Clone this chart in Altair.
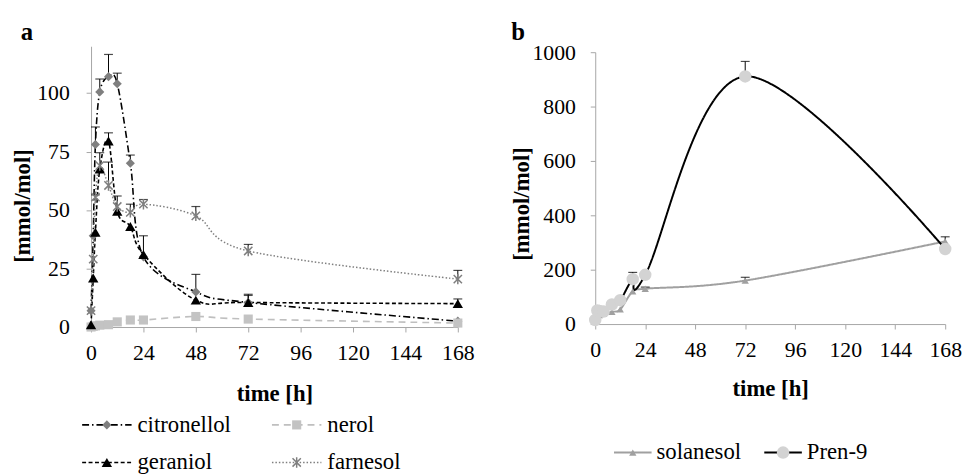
import altair as alt
import pandas as pd

# ---------------- data: panel a ----------------
time_a = [0, 1, 2, 4, 8, 12, 18, 24, 48, 72, 168]
citronellol = [7, 39, 78, 100.5, 107, 104, 70, 30, 15, 10.5, 2.5]
citronellol_err = [None, None, 7.5, 5.5, 9.5, 4.5, 3.5, None, 7.5, 3, None]
nerol = [0, 0.3, 0.5, 0.8, 1, 2.2, 3, 3, 4.5, 3.4, 1.7]
nerol_err = [None] * 11
geraniol = [1, 21, 40.5, 67.5, 79.5, 49.5, 43, 31, 11.5, 10.5, 10]
geraniol_err = [None, None, None, 7, 3.5, None, None, 8, None, 3.5, 2]
farnesol = [7, 29, 55.5, 69, 60.5, 51.5, 49, 52.5, 47.5, 32.5, 20.5]
farnesol_err = [None, None, 1, None, 10, 4.5, 3.5, 2, 4, 2.8, 3.7]

# ---------------- data: panel b ----------------
time_b = [0, 1, 2, 4, 8, 12, 18, 24, 72, 168]
solanesol = [15, 28, 33, 38, 45, 54, 120, 130, 160, 304]
solanesol_err = [None, None, None, None, None, None, None, 6, 12, 17]
pren9 = [15, 50, 48, 46, 72, 88, 165, 181, 911, 276]
pren9_err = [None, None, None, None, None, None, 25, None, 55, None]

ticks_x = [0, 24, 48, 72, 96, 120, 144, 168]
ticks_ya = [0, 25, 50, 75, 100]
ticks_yb = [0, 200, 400, 600, 800, 1000]

legend_a_labels = ["citronellol", "nerol", "geraniol", "farnesol"]
legend_a_col = [0, 1, 0, 1]
legend_a_row = [0, 0, 1, 1]
legend_b_labels = ["solanesol", "Pren-9"]
legend_b_col = [0, 1]
legend_b_row = [0, 0]

FONT = "serif"
BFONT = "Liberation Serif"
AXIS_GREY = "#a6a6a6"
STAR = "M-0.8,-0.8L0.8,0.8M0.8,-0.8L-0.8,0.8M0,-1L0,1"

styles = {
    "citronellol": dict(line="black", dash=[7, 3, 1.5, 3], lw=1.6, shape="diamond", size=85,
                        mcolor="#7f7f7f", filled=True),
    "nerol": dict(line="#bfbfbf", dash=[7, 5], lw=1.6, shape="square", size=85,
                  mcolor="#c3c3c3", filled=True),
    "geraniol": dict(line="black", dash=[4, 2.5], lw=1.6, shape="triangle-up", size=110,
                     mcolor="black", filled=True),
    "farnesol": dict(line="#7f7f7f", dash=[1.5, 2], lw=1.5, shape=STAR, size=110,
                     mcolor="#7f7f7f", filled=False),
    "solanesol": dict(line="#a0a0a0", dash=[1, 0], lw=2, shape="triangle-up", size=55,
                      mcolor="#a0a0a0", filled=True),
    "Pren-9": dict(line="black", dash=[1, 0], lw=2, shape="circle", size=160,
                   mcolor="#d3d3d3", filled=True),
}


def axis_x(title_y, off):
    return alt.Axis(values=ticks_x, title="time [h]", titleFont=BFONT, titleFontSize=23,
                    titleFontWeight="bold", titleColor="black", titleY=title_y,
                    titleBaseline="alphabetic", offset=off,
                    labelFont=FONT, labelFontSize=22, labelColor="black", labelPadding=11,
                    labelFlush=False, labelOverlap=False, format="d",
                    domainColor=AXIS_GREY, tickColor=AXIS_GREY, tickSize=5, grid=False)


def axis_y(vals, title_x, title_y, lp):
    return alt.Axis(values=vals, title="[mmol/mol]", titleFont=BFONT, titleFontSize=23,
                    titleFontWeight="bold", titleColor="black", titleX=title_x, titleY=title_y,
                    titleAngle=-90, titleBaseline="middle", titleAlign="center",
                    labelFont=FONT, labelFontSize=22, labelColor="black", labelPadding=lp,
                    labelFlush=False, labelOverlap=False, format="d",
                    domainColor=AXIS_GREY, tickColor=AXIS_GREY, tickSize=5, grid=False)


def series_layers(name, t, vals, errs, xscale, xaxis, yscale, yaxis):
    st = styles[name]
    X = alt.X("t:Q", scale=xscale, axis=xaxis)
    Y = alt.Y("v:Q", scale=yscale, axis=yaxis)
    YT = alt.Y("top:Q", scale=yscale, axis=yaxis)
    df = pd.DataFrame({"t": t, "v": vals, "e": [float("nan") if e is None else e for e in errs]})
    df["top"] = df["v"] + df["e"]
    base = alt.Chart(df)
    line = base.mark_line(color=st["line"], strokeDash=st["dash"], strokeWidth=st["lw"],
                          interpolate="cardinal").encode(x=X, y=Y)
    eb = base.transform_filter("isValid(datum.e) && isFinite(datum.e)")
    rule = eb.mark_rule(color="black", strokeWidth=1).encode(x=X, y=Y, y2=alt.Y2("top:Q"))
    cap = eb.mark_tick(color="black", orient="horizontal", size=9, thickness=1.2).encode(x=X, y=YT)
    if st["filled"]:
        pts = base.mark_point(shape=st["shape"], size=st["size"], filled=True, opacity=1,
                              color=st["mcolor"], strokeWidth=0).encode(x=X, y=Y)
    else:
        pts = base.mark_point(shape=st["shape"], size=st["size"], filled=False, opacity=1,
                              color=st["mcolor"], strokeWidth=1.5).encode(x=X, y=Y)
    return [line, rule, cap], [pts]


def legend_layers(labels, cols, rows, xr, yr, half, tdx):
    LX = alt.X("col:Q", scale=alt.Scale(domain=[0, 1], range=xr), axis=None)
    LY = alt.Y("row:Q", scale=alt.Scale(domain=[0, 1], range=yr), axis=None)
    out = []
    for lab, c, r in zip(labels, cols, rows):
        st = styles[lab]
        d = alt.Chart(pd.DataFrame({"col": [c], "row": [r], "label": [lab]}))
        out.append(d.mark_rule(color=st["line"], strokeDash=st["dash"], strokeWidth=st["lw"],
                               xOffset=-half, x2Offset=half).encode(x=LX, x2=alt.X2("col:Q"), y=LY))
        if st["filled"]:
            out.append(d.mark_point(shape=st["shape"], size=st["size"], filled=True, opacity=1,
                                    color=st["mcolor"], strokeWidth=0).encode(x=LX, y=LY))
        else:
            out.append(d.mark_point(shape=st["shape"], size=st["size"], filled=False, opacity=1,
                                    color=st["mcolor"], strokeWidth=1.5).encode(x=LX, y=LY))
        out.append(d.mark_text(align="left", baseline="middle", dx=tdx, font=FONT,
                               fontSize=23, color="black").encode(x=LX, y=LY, text="label:N"))
    return out


# ---------------- panel a ----------------
xs_a = alt.Scale(domain=[0, 168], nice=False, zero=False)
ys_a = alt.Scale(domain=[0, 120], nice=False)
xa_ax = axis_x(74, 0)
ya_ax = axis_y(ticks_ya, -69, 161, 17)
back_a, front_a = [], []
for nm, vals, errs in [("citronellol", citronellol, citronellol_err), ("nerol", nerol, nerol_err),
                       ("geraniol", geraniol, geraniol_err), ("farnesol", farnesol, farnesol_err)]:
    b, f = series_layers(nm, time_a, vals, errs, xs_a, xa_ax, ys_a, ya_ax)
    back_a += b
    front_a += f

leg_a = legend_layers(legend_a_labels, legend_a_col, legend_a_row, [16, 208], [383, 421], 25, 31)
panel_a = alt.layer(alt.layer(*(back_a + front_a)), alt.layer(*leg_a)).resolve_scale(
    x="independent", y="independent").properties(
    width=371, height=284,
    title=alt.Title("a", anchor="start", frame="group", dx=-71, dy=26, fontSize=25, font=BFONT,
                    fontWeight="bold", color="black", baseline="alphabetic", offset=7))

# ---------------- panel b ----------------
xs_b = alt.Scale(domain=[0, 168], nice=False, zero=False)
ys_b = alt.Scale(domain=[0, 1000], nice=False, range=[281, 6])
xb_ax = axis_x(72, -3)
yb_ax = axis_y(ticks_yb, -74, 159, 15)
back_b, front_b = [], []
for nm, vals, errs in [("solanesol", solanesol, solanesol_err), ("Pren-9", pren9, pren9_err)]:
    b, f = series_layers(nm, time_b, vals, errs, xs_b, xb_ax, ys_b, yb_ax)
    back_b += b
    front_b += f

leg_b = legend_layers(legend_b_labels, legend_b_col, legend_b_row, [38, 190], [411, 449], 19, 24)
panel_b = alt.layer(alt.layer(*(back_b + front_b)), alt.layer(*leg_b)).resolve_scale(
    x="independent", y="independent").properties(
    width=354, height=284,
    title=alt.Title("b", anchor="start", frame="group", dx=-85, dy=26, fontSize=25, font=BFONT,
                    fontWeight="bold", color="black", baseline="alphabetic", offset=2))

chart = alt.hconcat(panel_a, panel_b, spacing=139, bounds="flush").properties(
    padding={"left": 4, "top": 10, "right": 0, "bottom": 0},
    background="white").configure_view(stroke=None)

chart.save("out.html", embed_options={"renderer": "svg", "actions": False})
